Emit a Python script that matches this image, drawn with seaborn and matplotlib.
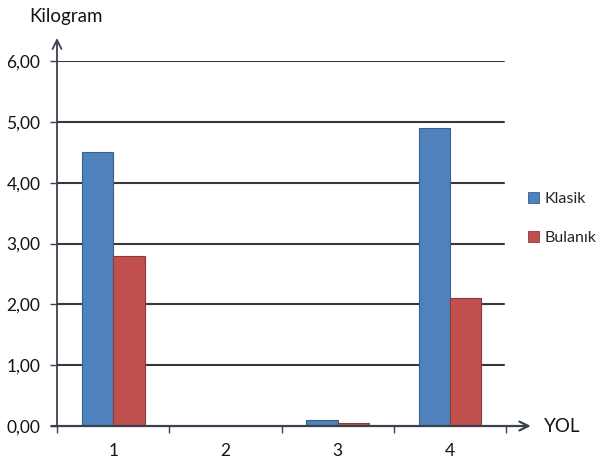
import matplotlib
matplotlib.use("Agg")
import matplotlib.pyplot as plt
from matplotlib.patches import Patch
import seaborn as sns
import pandas as pd

# Route categories and measured weights per method
categories = ["1", "2", "3", "4"]
klasik = [4.5, 0.0, 0.1, 4.9]
bulanik = [2.8, 0.0, 0.05, 2.1]
series_names = ["Klasik", "Bulanık"]
y_ticks = [0, 1, 2, 3, 4, 5, 6]
y_tick_labels = ["0,00", "1,00", "2,00", "3,00", "4,00", "5,00", "6,00"]

colors = ["#4F81BD", "#C0504D"]
edge_colors = ["#3a5f8c", "#8c3a38"]
axis_color = "#3a4250"
grid_color = "#383838"
text_color = "#141414"

sns.set_theme(style="white")
plt.rcParams["font.family"] = ["Lato", "DejaVu Sans"]

df = pd.DataFrame({
    "YOL": categories * 2,
    "Kilogram": klasik + bulanik,
    "Yöntem": [series_names[0]] * len(categories) + [series_names[1]] * len(categories),
})

fig = plt.figure(figsize=(6.09, 4.66), dpi=100)
ax = fig.add_axes([0.0936, 0.0858, 0.7374, 0.783])

sns.barplot(data=df, x="YOL", y="Kilogram", hue="Yöntem", order=categories,
            hue_order=series_names, palette=colors, width=0.56, saturation=1,
            errorbar=None, linewidth=0.8, ax=ax, legend=False, zorder=3)

# thin darker outline on each bar, matching its series
for container, ec in zip(ax.containers, edge_colors):
    for bar in container:
        bar.set_edgecolor(ec)
        if bar.get_height() == 0:
            bar.set_linewidth(0)

ax.set_xlim(-0.5, 3.5)
ax.set_ylim(0, 6)

# horizontal gridlines
for y in y_ticks[1:]:
    ax.axhline(y, color=grid_color, lw=1.5, zorder=1, xmax=0.995)

for s in ax.spines.values():
    s.set_visible(False)

# axes drawn as arrows
ax.annotate("", xy=(-0.5, 6.38), xytext=(-0.5, 0), xycoords="data",
            arrowprops=dict(arrowstyle="->", color=axis_color, lw=1.3,
                            mutation_scale=16, shrinkA=0, shrinkB=0),
            annotation_clip=False, zorder=5)
ax.annotate("", xy=(3.72, 0), xytext=(-0.55, 0), xycoords="data",
            arrowprops=dict(arrowstyle="->", color=axis_color, lw=1.6,
                            mutation_scale=16, shrinkA=0, shrinkB=0),
            annotation_clip=False, zorder=5)

ax.set_yticks(y_ticks)
ax.set_yticklabels(y_tick_labels, fontsize=12.5, color=text_color)
ax.tick_params(axis="y", length=5, width=1, color=axis_color, pad=7, left=True)

ax.set_xticks(range(len(categories)))
ax.set_xticklabels(categories, fontsize=12.5, color=text_color)
ax.set_xticks([-0.5, 0.5, 1.5, 2.5, 3.5], minor=True)
ax.tick_params(axis="x", which="major", length=0, pad=12)
ax.tick_params(axis="x", which="minor", length=5, width=1, color=axis_color, bottom=True, direction="out")

ax.set_xlabel("")
ax.set_ylabel("")

fig.text(0.108, 0.965, "Kilogram", fontsize=13.5, color=text_color, ha="center", va="center")
fig.text(0.893, 0.084, "YOL", fontsize=13.5, color=text_color, ha="left", va="center")

handles = [Patch(facecolor=c, edgecolor=ec, linewidth=0.6) for c, ec in zip(colors, edge_colors)]
fig.legend(handles, series_names, loc="center left", bbox_to_anchor=(0.848, 0.531),
           frameon=False, fontsize=11.5, handlelength=0.7, handleheight=0.7,
           handletextpad=0.35, labelspacing=1.55, borderpad=0.2)

fig.savefig("out.png", dpi=100)
